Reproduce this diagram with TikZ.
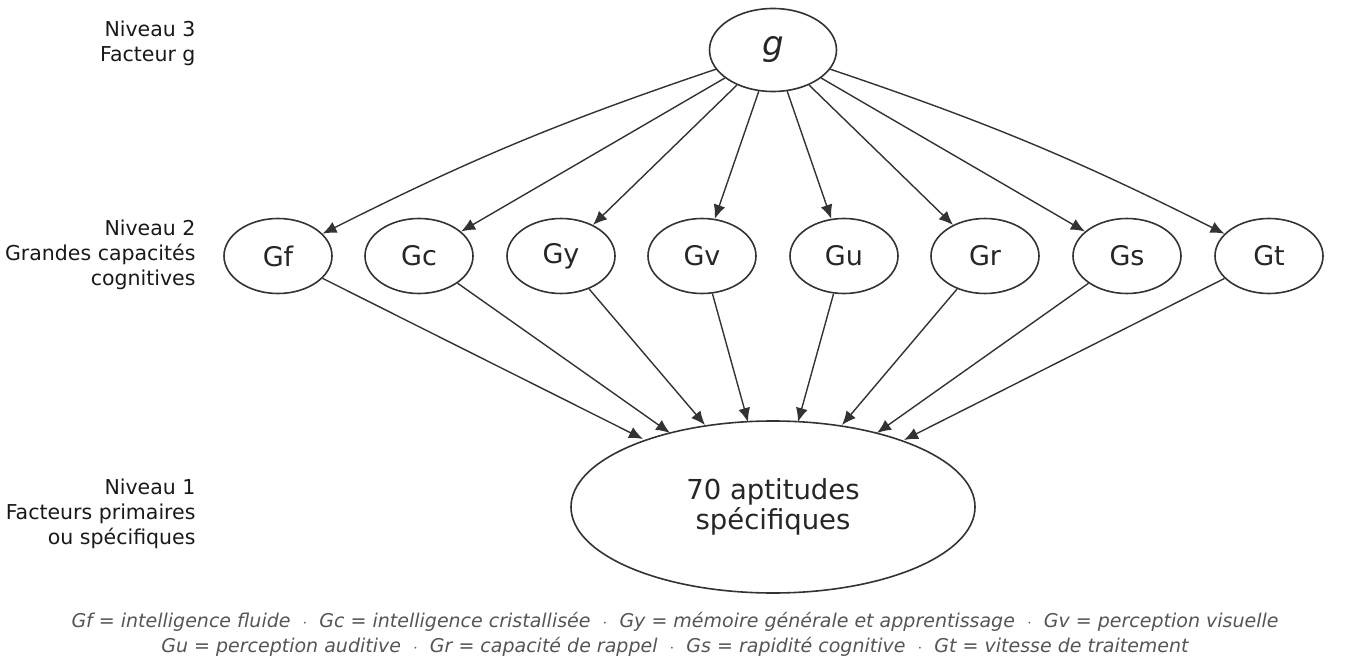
\documentclass[tikz,border=0pt]{standalone}
\usepackage{fontspec}
\setmainfont{DejaVu Sans}
\usetikzlibrary{shapes.geometric,arrows.meta}
\definecolor{ln}{HTML}{333333}
\definecolor{cap}{HTML}{555555}
\begin{document}
\begin{tikzpicture}[x=1pt,y=-1pt,
  el/.style={ellipse,draw=ln,line width=1.6pt,inner sep=0pt,text=black!85},
  l2/.style={el,minimum width=108pt,minimum height=75pt,font=\fontsize{27}{30}\selectfont},
  ar/.style={draw=ln,line width=1.4pt,-{Latex[length=14pt,width=12pt]}},
  lab/.style={align=right,anchor=east,font=\fontsize{20.5}{25}\selectfont,text=black!90}]
\useasboundingbox (0,0) rectangle (1352,666);
\node[el,minimum width=127pt,minimum height=83pt,font=\fontsize{34}{36}\selectfont\itshape] (g) at (773,50) {g};
\foreach \n/\x in {Gf/278,Gc/419,Gy/561,Gv/702,Gu/844,Gr/985,Gs/1127,Gt/1269}
  \node[l2] (\n) at (\x,256) {\n};
\node[el,minimum width=404pt,minimum height=172pt,align=center,font=\fontsize{27.5}{30}\selectfont] (b) at (773,507) {70 aptitudes\\spécifiques};
\draw[ar] (g) to[bend right=4] (Gf);
\draw[ar] (g) -- (Gc);
\draw[ar] (g) -- (Gy);
\draw[ar] (g) -- (Gv);
\draw[ar] (g) -- (Gu);
\draw[ar] (g) -- (Gr);
\draw[ar] (g) -- (Gs);
\draw[ar] (g) to[bend left=4] (Gt);
\draw[ar] (Gf) -- (643,439);
\draw[ar] (Gc) -- (670,433);
\draw[ar] (Gy) -- (705,425);
\draw[ar] (Gv) -- (748,422);
\draw[ar] (Gu) -- (798,422);
\draw[ar] (Gr) -- (842,425);
\draw[ar] (Gs) -- (877,433);
\draw[ar] (Gt) -- (904,440);
\node[lab] (n3) at (199,43) {Niveau 3\\Facteur g};
\node[lab] (n2) at (199,255) {Niveau 2\\Grandes capacités\\cognitives};
\node[lab] (n1) at (199,514) {Niveau 1\\Facteurs primaires\\ou spécifiques};
\node[align=center,text=cap,font=\fontsize{19}{25}\selectfont\itshape] (c) at (675,634) {Gf = intelligence fluide \ $\cdot$\ \ Gc = intelligence cristallisée \ $\cdot$\ \ Gy = mémoire générale et apprentissage \ $\cdot$\ \ Gv = perception visuelle\\Gu = perception auditive \ $\cdot$\ \ Gr = capacité de rappel \ $\cdot$\ \ Gs = rapidité cognitive \ $\cdot$\ \ Gt = vitesse de traitement};
\end{tikzpicture}
\end{document}
